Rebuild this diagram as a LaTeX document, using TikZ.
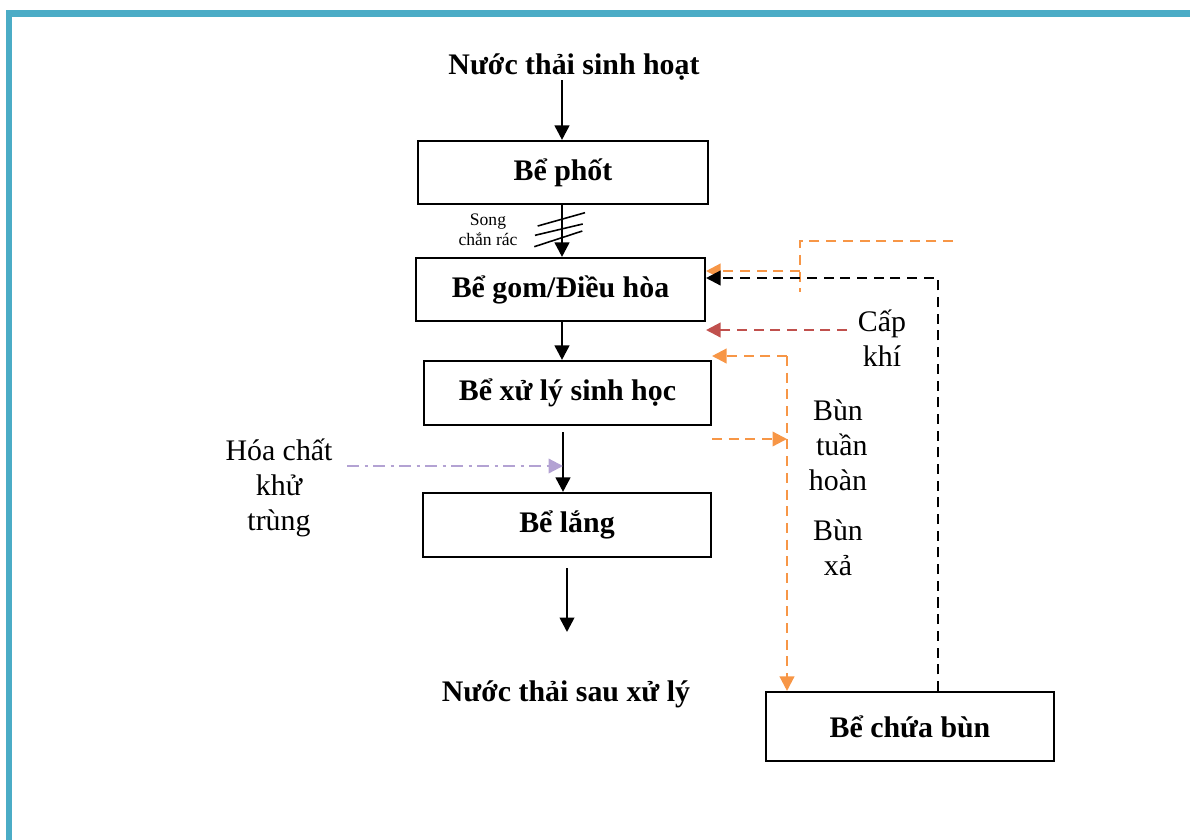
\documentclass[tikz,border=0pt]{standalone}
\usepackage{fontspec}
\setmainfont{Liberation Serif}
\usetikzlibrary{arrows.meta}
\definecolor{frameblue}{HTML}{4BACC6}
\definecolor{dorange}{HTML}{F79646}
\definecolor{dred}{HTML}{C0504D}
\definecolor{dpurple}{HTML}{B3A2D3}
\begin{document}
\begin{tikzpicture}[x=0.02cm,y=-0.02cm,
  box/.style={draw, line width=1.2pt, inner sep=0pt, font=\bfseries\fontsize{17}{20}\selectfont},
  title/.style={inner sep=0pt, font=\bfseries\fontsize{17}{20}\selectfont},
  lbl/.style={align=center, inner sep=0pt, font=\fontsize{17}{19.8}\selectfont},
  small/.style={align=center, inner sep=0pt, font=\fontsize{10}{11.4}\selectfont},
  tip/.style={-{Triangle[length=0.29cm,width=0.29cm]}},
  flow/.style={line width=1.5pt, tip},
  dsh/.style={line width=1.3pt, dash pattern=on 5.7pt off 3.8pt},
  orangeflow/.style={dsh, color=dorange},
  blackflow/.style={dsh, color=black},
  redflow/.style={dsh, color=dred},
  purpleflow/.style={line width=1.3pt, color=dpurple, dash pattern=on 7pt off 3pt on 1.8pt off 3pt},
  hatch/.style={line width=0.9pt}
]
\useasboundingbox (0,0) rectangle (1190,839);
\clip (0,0) rectangle (1190,839);
% frame
\draw[frameblue, line width=0.14cm] (9,13.5) rectangle (1260,920);

% nodes
\node[title] (title) at (574,67) {Nước thải sinh hoạt};
\node[box, minimum width=5.8cm, minimum height=1.26cm] (phot) at (563,172.5) {Bể phốt};
\node[box, minimum width=5.78cm, minimum height=1.26cm] (gom) at (560.5,289.5) {Bể gom/Điều hòa};
\node[box, minimum width=5.74cm, minimum height=1.28cm] (sh) at (567.5,393) {Bể xử lý sinh học};
\node[box, minimum width=5.76cm, minimum height=1.28cm] (lang) at (567,525) {Bể lắng};
\node[title] (out) at (566,694) {Nước thải sau xử lý};
\node[box, minimum width=5.76cm, minimum height=1.38cm] (bun) at (910,726.5) {Bể chứa bùn};

\node[small] (song) at (488,230) {Song\\chắn rác};
\node[lbl] (hoachat) at (279,488) {Hóa chất\\khử\\trùng};
\node[lbl] (capkhi) at (882,338) {Cấp\\khí};
\node[lbl] (buntuan) at (838,445) {Bùn\\\hspace*{0.25em}tuần\\hoàn};
\node[lbl] (bunxa) at (838,548) {Bùn\\xả};

% main flow
\coordinate (c1) at (562,80);
\draw[flow] (c1) -- (c1 |- phot.north);
\draw[flow] (phot.south -| c1) -- (c1 |- gom.north);
\draw[flow] (gom.south -| c1) -- (c1 |- sh.north);
\coordinate (c2) at (563,432);
\draw[flow] (c2) -- (c2 |- lang.north);
\coordinate (c3) at (567,568);
\coordinate (c4) at (567,632);
\draw[flow] (c3) -- (c4);

% screen hatch
\draw[hatch] (537.7,226) -- (585,212.7);
\draw[hatch] (535,235.3) -- (582.7,224);
\draw[hatch] (534.3,246.7) -- (582.3,231);

% right side connectors
\coordinate (oa) at (953,241);
\coordinate (ob) at (800,292);
\coordinate (oc) at (800,271);
\draw[orangeflow] (oa) -| (ob);
\draw[orangeflow, tip] (oc) -- (gom.east |- oc);

\coordinate (bk) at (938,278);
\draw[blackflow, tip] (bun.north -| bk) -- (bk) -- (gom.east |- bk);

\coordinate (rk) at (847,330);
\draw[redflow, tip] (rk) -- (gom.east |- rk);

\coordinate (ot) at (787,356);
\coordinate (om) at (787,439);
\draw[orangeflow, tip] (ot) -- (sh.east |- ot);
\draw[orangeflow, tip] (ot) -- (bun.north -| ot);
\draw[orangeflow, tip] (sh.east |- om) -- (om);

\coordinate (pc) at (347,466);
\draw[purpleflow, tip] (pc) -- (c2 |- pc);
\end{tikzpicture}
\end{document}
